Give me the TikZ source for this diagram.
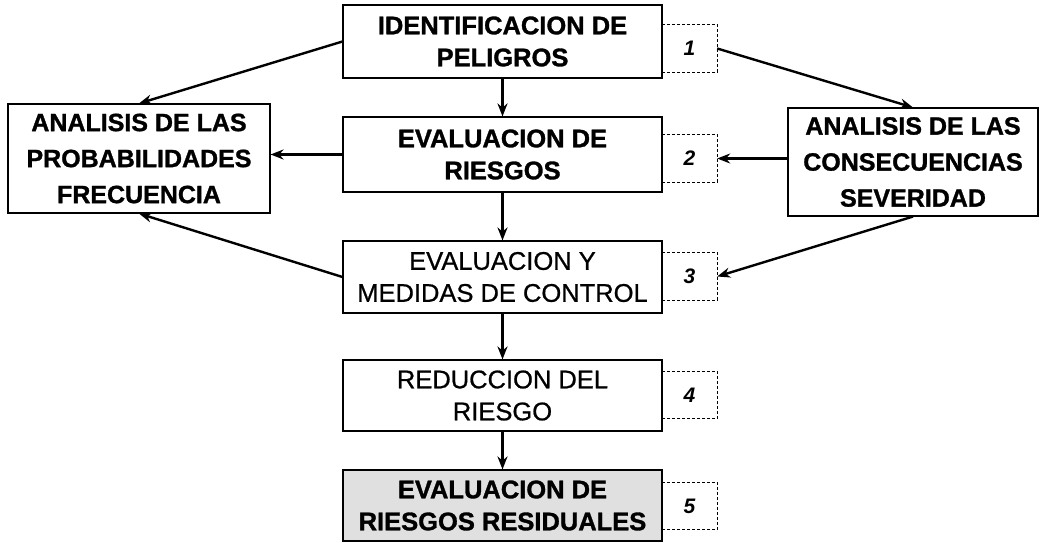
\documentclass[tikz,border=0pt]{standalone}
\usepackage{fontspec}
\setmainfont{Liberation Sans}
\newfontfamily\heavyfont[BoldFeatures={FakeBold=1.2}]{Liberation Sans}
\newfontfamily\medfont[FakeBold=0.8]{Liberation Sans}
\usetikzlibrary{arrows.meta}
\begin{document}
\begin{tikzpicture}[x=1pt,y=-1pt,
  mainbox/.style={draw=black,line width=1.1pt,minimum width=319pt,inner sep=0pt,align=center,
    font=\fontsize{25.5}{32}\heavyfont\bfseries},
  lightbox/.style={mainbox,font=\fontsize{25.5}{32}\medfont},
  sidebox/.style={draw=black,line width=1.1pt,inner sep=0pt,align=center,
    font=\fontsize{25}{36}\heavyfont\bfseries},
  numbox/.style={minimum width=55pt,minimum height=47pt,inner sep=0pt,
    font=\fontsize{21}{22}\heavyfont\bfseries\itshape},
  numedge/.style={draw=black,line width=0.9pt,densely dashed},
  arr/.style={line width=2.4pt,-{Stealth[length=13pt,width=10pt]}}]
\useasboundingbox (0,0) rectangle (1042,543);
% main column
\node[mainbox,minimum height=73pt] (b1) at (502.5,41.5) {IDENTIFICACION DE\\PELIGROS};
\node[mainbox,minimum height=75pt] (b2) at (502.5,154.5) {EVALUACION DE\\RIESGOS};
\node[lightbox,minimum height=72pt] (b3) at (502.5,277) {EVALUACION Y\\MEDIDAS DE CONTROL};
\node[lightbox,minimum height=71pt] (b4) at (502.5,395.5) {REDUCCION DEL\\RIESGO};
\node[mainbox,minimum height=71pt,fill=black!12] (b5) at (502.5,505.5) {EVALUACION DE\\RIESGOS RESIDUALES};
% side boxes
\node[sidebox,minimum width=262pt,minimum height=109pt] (lb) at (139,158.5) {ANALISIS DE LAS\\PROBABILIDADES\\FRECUENCIA};
\node[sidebox,minimum width=250pt,minimum height=108pt] (rb) at (913,162) {ANALISIS DE LAS\\CONSECUENCIAS\\SEVERIDAD};
% number boxes
\node[numbox] (n1) at (689.5,48.5) {1};
\node[numbox] (n2) at (689.5,158.5) {2};
\node[numbox] (n3) at (689.5,276.5) {3};
\node[numbox] (n4) at (689.5,395) {4};
\node[numbox] (n5) at (689.5,506) {5};
\foreach \n in {n1,n2,n3,n4,n5}{
  \draw[numedge] (\n.north west) -- (\n.north east) -- (\n.south east) -- (\n.south west);
}
% vertical arrows
\draw[arr] (b1.south) -- (b2.north);
\draw[arr] (b2.south) -- (b3.north);
\draw[arr] (b3.south) -- (b4.north);
\draw[arr] (b4.south) -- (b5.north);
% side arrows
\draw[arr] (b1.west) -- (lb.north);
\draw[arr] (n1.east) -- (rb.north);
\draw[arr] (b2.west) -- (b2.west -| lb.east);
\draw[arr] (rb.west |- n2.east) -- (n2.east);
\draw[arr] (b3.west) -- (lb.south);
\draw[arr] (rb.south) -- (n3.east);
\end{tikzpicture}
\end{document}
